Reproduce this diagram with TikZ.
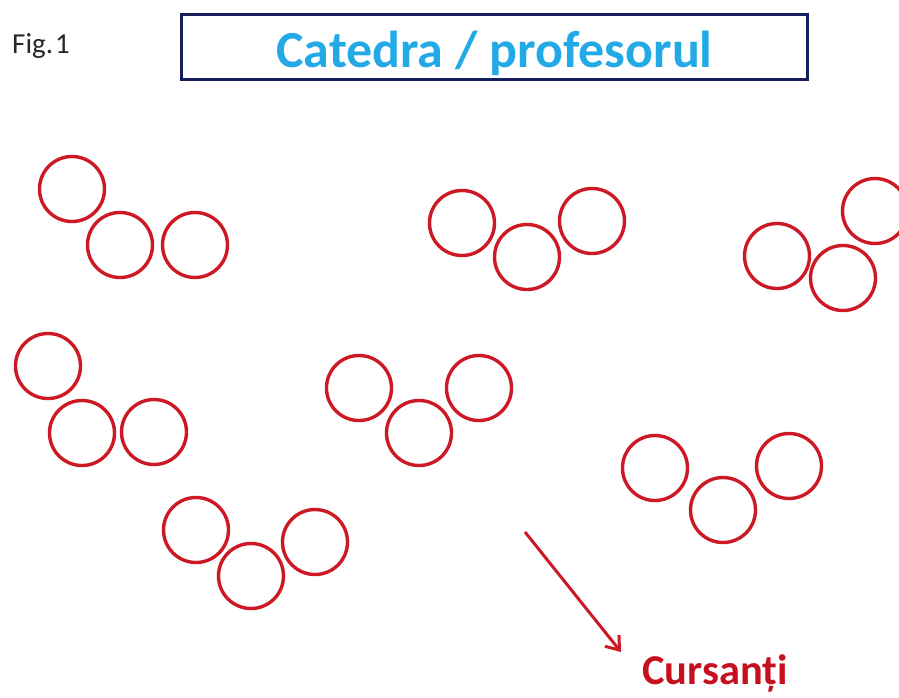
\documentclass[tikz,border=0pt]{standalone}
\usepackage{fontspec}
\setmainfont{Carlito}
\usetikzlibrary{arrows.meta}
\definecolor{circred}{RGB}{205,25,35}
\definecolor{titleblue}{RGB}{35,170,230}
\definecolor{boxnavy}{RGB}{20,30,90}
\definecolor{labelred}{RGB}{200,15,30}
\definecolor{figgray}{RGB}{40,40,40}
\tikzset{
  student/.style={circle, draw=circred, line width=3.4pt, minimum size=65pt, inner sep=0pt},
  titlebox/.style={draw=boxnavy, line width=2.8pt, minimum width=626pt, minimum height=65pt, inner sep=0pt},
  titletext/.style={text=titleblue, font=\fontsize{52}{56}\selectfont\bfseries, inner sep=0pt, anchor=base},
  figlabel/.style={text=figgray, font=\fontsize{29}{32}\selectfont, inner sep=0pt, anchor=base west},
  cursant/.style={text=labelred, font=\fontsize{42.5}{46}\selectfont\bfseries, inner sep=0pt, anchor=base west},
  pointer/.style={draw=circred, line width=3pt, -{Straight Barb[length=12pt,width=18pt,line width=3pt]}}
}
\begin{document}
\begin{tikzpicture}[x=1pt,y=-1pt]
\useasboundingbox (0,0) rectangle (899,697);
% title
\node[titlebox] (box) at (494.5,47) {};
\node[titletext] (title) at (494.5,67) {Catedra / profesorul};
\node[figlabel] (fig) at (12,53) {Fig.\hspace{2pt}1};
% group 1
\node[student] (a1) at (72,189) {};
\node[student] (a2) at (120,245) {};
\node[student] (a3) at (195,245) {};
% group 2
\node[student] (b1) at (462,223) {};
\node[student] (b2) at (527,257) {};
\node[student] (b3) at (592,221) {};
% group 3
\node[student] (c1) at (777,256) {};
\node[student] (c2) at (843,278) {};
\node[student] (c3) at (875,211) {};
% group 4
\node[student] (d1) at (48,366) {};
\node[student] (d2) at (82,433) {};
\node[student] (d3) at (154,432) {};
% group 5
\node[student] (e1) at (359,388) {};
\node[student] (e2) at (419,433) {};
\node[student] (e3) at (479,388) {};
% group 6
\node[student] (f1) at (655,468) {};
\node[student] (f2) at (723,510) {};
\node[student] (f3) at (789,466) {};
% group 7
\node[student] (g1) at (196,530) {};
\node[student] (g2) at (251,576) {};
\node[student] (g3) at (315,542) {};
% arrow and label
\coordinate (arrstart) at (525,532);
\coordinate (arrend) at (621,652);
\draw[pointer] (arrstart) -- (arrend);
\node[cursant] (cursanti) at (642,684) {Cursanți};
\end{tikzpicture}
\end{document}
